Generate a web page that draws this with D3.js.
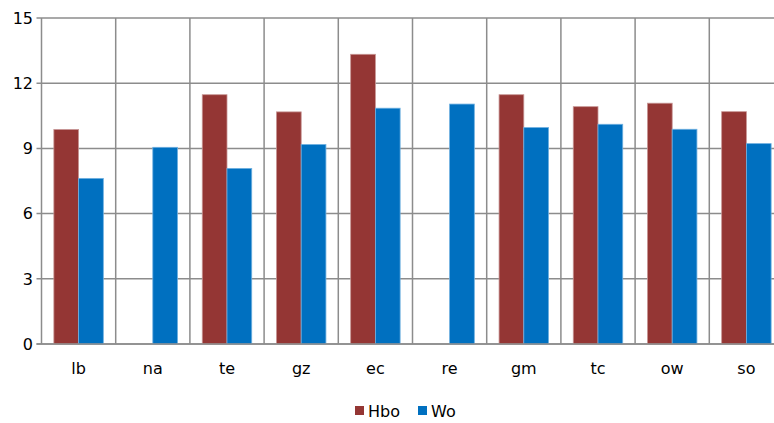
<!DOCTYPE html>
<html><head><meta charset="utf-8">
<script src="https://cdn.jsdelivr.net/npm/d3@7"></script>
<style>body{margin:0;background:#fff;overflow:hidden}svg{display:block}text{font-family:"DejaVu Sans",sans-serif;fill:#000}</style>
</head><body><svg id="c" width="774" height="423"></svg>
<script>
const categories = ["lb","na","te","gz","ec","re","gm","tc","ow","so"];
const seriesNames = ["Hbo","Wo"];
const hbo = [9.87, null, 11.47, 10.68, 13.33, null, 11.47, 10.92, 11.08, 10.69];
const wo  = [7.62, 9.05, 8.08, 9.18, 10.85, 11.04, 9.96, 10.11, 9.88, 9.22];
const yTicks = [0,3,6,9,12,15];
const colors = ["#943634","#0070C0"];

const svg = d3.select("#c");
const x0 = 41.5, x1 = 783.5, yTop = 18, yBot = 344;
const x = d3.scaleBand().domain(categories).range([x0,x1]).paddingInner(0).paddingOuter(0);
const xs = d3.scaleBand().domain(seriesNames).range([0,x.bandwidth()]).paddingInner(0).paddingOuter(0.5);
const y = d3.scaleLinear().domain([0,15]).range([yBot,yTop]);

// grid
const g = svg.append("g");
g.selectAll(".hg").data(yTicks).join("line")
  .attr("x1",x0-5).attr("x2",x1).attr("y1",d=>y(d)).attr("y2",d=>y(d))
  .attr("stroke","#8c8c8c").attr("stroke-width",1.5);
g.selectAll(".vg").data(categories.concat(["_end"])).join("line")
  .attr("x1",(d,i)=>x0+i*x.bandwidth()).attr("x2",(d,i)=>x0+i*x.bandwidth())
  .attr("y1",yTop).attr("y2",yBot)
  .attr("stroke","#8c8c8c").attr("stroke-width",1.5);

// bars
const data = [hbo, wo];
seriesNames.forEach((s,si)=>{
  svg.append("g").selectAll("rect").data(categories.map((c,i)=>({c,v:data[si][i]})).filter(d=>d.v!=null))
    .join("rect")
    .attr("x",d=>x(d.c)+xs(s)).attr("width",xs.bandwidth())
    .attr("y",d=>y(d.v)).attr("height",d=>y(0)-y(d.v))
    .attr("fill",colors[si])
    .attr("stroke", si===0?"#c79594":"#6fb0e0").attr("stroke-width",0.8);
});

// baseline
svg.append("line").attr("x1",x0-5).attr("x2",x1).attr("y1",yBot).attr("y2",yBot)
  .attr("stroke","#8c8c8c").attr("stroke-width",1.5);

// y labels
svg.append("g").selectAll("text").data(yTicks).join("text")
  .attr("x",33).attr("y",d=>y(d)).attr("dy","0.36em").attr("text-anchor","end")
  .attr("font-size",16).text(d=>d);

// x labels
svg.append("g").selectAll("text").data(categories).join("text")
  .attr("x",d=>x(d)+x.bandwidth()/2).attr("y",368).attr("dy","0.36em")
  .attr("text-anchor","middle").attr("font-size",16).text(d=>d);

// legend
const leg = svg.append("g");
const legX = [355, 418];
seriesNames.forEach((s,i)=>{
  leg.append("rect").attr("x",legX[i]).attr("y",406).attr("width",9).attr("height",9).attr("fill",colors[i]);
  leg.append("text").attr("x",legX[i]+13).attr("y",411).attr("dy","0.36em").attr("font-size",16).text(s);
});
</script></body></html>
